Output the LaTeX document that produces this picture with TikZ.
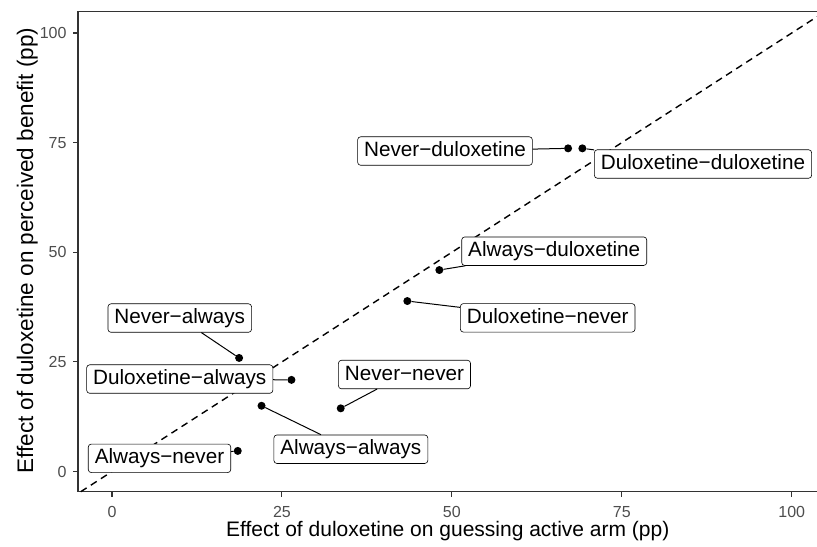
\documentclass[tikz,border=0pt]{standalone}
\usepackage{fontspec}
\setmainfont{Liberation Sans}
\definecolor{axisgray}{HTML}{333333}
\definecolor{ticktext}{HTML}{4D4D4D}
\begin{document}
\begin{tikzpicture}[x=6.797pt, y=4.385pt,
    dot/.style={circle, fill=black, inner sep=0pt, minimum size=8pt},
    lab/.style={draw, rounded corners=3pt, line width=0.6pt, fill=white, inner xsep=6.5pt, inner ysep=0pt,
      minimum height=28.5pt, text height=15pt, text depth=4pt, font=\fontsize{20.7}{24}\selectfont},
    ticklab/.style={text=ticktext, inner sep=0pt, font=\fontsize{16}{19}\selectfont},
    axtitle/.style={inner sep=0pt, font=\fontsize{21}{25}\selectfont}]
        \useasboundingbox (-16.478,-16.99) rectangle (103.72,107.53);
        % panel
        \draw[axisgray, line width=1.1pt] (103.72,105) -- (-5,105) -- (-5,-4.6) -- (103.72,-4.6);
        \foreach \v in {0,25,50,75,100} {
            \draw[axisgray, line width=1.1pt] (\v,-4.6) -- ++(0,-5pt);
            \draw[axisgray, line width=1.1pt] (-5,\v) -- ++(-5pt,0);
            \node[ticklab] (xt\v) at (\v,-9.2) {\v};
            \node[ticklab, anchor=east] (yt\v) at (-6.66,\v) {\v};
        }
        \draw[dashed, dash pattern=on 7pt off 5pt, line width=1.4pt] (-4.6,-4.6) -- (103.72,103.72);
        % points and labels
        \foreach \n/\px/\py/\lx/\ly/\t in {
            nd/67.1/73.7/48.99/73.09/Never−duloxetine,
            dd/69.2/73.7/86.95/70.13/Duloxetine−duloxetine,
            ad/48.16/45.95/65.06/50.24/Always−duloxetine,
            dn/43.45/38.88/64.1/35.05/Duloxetine−never,
            na/18.7/25.9/9.97/35.0/Never−always,
            da/26.4/20.9/9.97/21.09/Duloxetine−always,
            nn/33.65/14.41/43.03/22.12/Never−never,
            aa/22.0/15.0/35.14/5.09/Always−always,
            an/18.5/4.7/6.99/3.01/Always−never} {
            \node[dot] (p\n) at (\px,\py) {};
            \node[lab] (l\n) at (\lx,\ly) {\t};
            \draw[line width=1pt] (p\n) -- (l\n);
        }
        % axis titles
        \node[axtitle, anchor=base] (xtitle) at (49.4,-14.8) {Effect of duloxetine on guessing active arm (pp)};
        \node[axtitle, anchor=base, rotate=90, font=\fontsize{22.5}{26}\selectfont] (ytitle) at (-11.6,50.4) {Effect of duloxetine on perceived benefit (pp)};
\end{tikzpicture}
\end{document}
